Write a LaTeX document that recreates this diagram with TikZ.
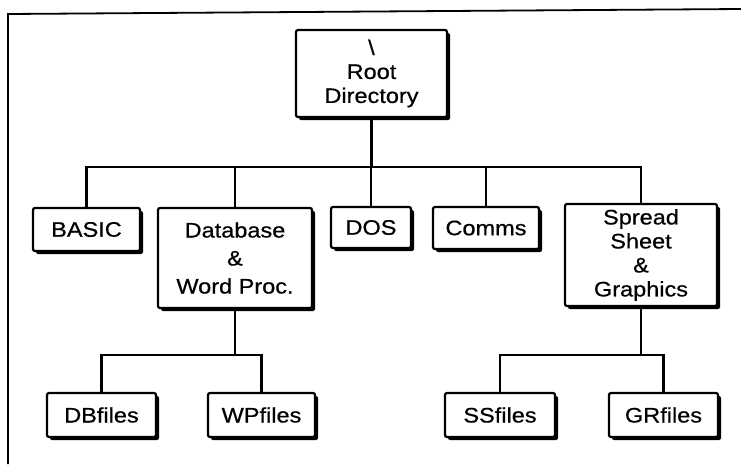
\documentclass[tikz,border=0pt]{standalone}
\usepackage{fontspec}
\setmainfont{Liberation Sans}[FakeStretch=1.12, FakeBold=0.6]
\usetikzlibrary{shadows}
\tikzset{
    dirbox/.style={draw, line width=2.2pt, rounded corners=2pt, fill=white,
        align=center, inner sep=0pt, font=\fontsize{21}{24}\selectfont,
        drop shadow={shadow xshift=3pt, shadow yshift=-3pt, opacity=1, fill=black}},
    link/.style={line width=2.4pt}
}
\begin{document}
\begin{tikzpicture}[x=1pt, y=-1pt]
        \useasboundingbox (0,0) rectangle (741,464);

        % frame
        \draw[line width=1.8pt] (8,464) -- (8,14) -- (741,9);

        \node[dirbox, minimum width=151pt, minimum height=87pt]  at (371.5,73.5)  (root)    {\textbackslash\\Root\\Directory};

        \node[dirbox, minimum width=107pt, minimum height=43pt]  at (86.5,229.5)  (basic)   {BASIC};
        \node[dirbox, minimum width=154pt, minimum height=100pt, font=\fontsize{21}{28}\selectfont] at (235,258) (db) {Database\\\&\\Word Proc.};
        \node[dirbox, minimum width=80pt, minimum height=41pt]   at (371,227.5)   (dos)     {DOS};
        \node[dirbox, minimum width=106pt, minimum height=42pt]  at (486,228)     (comms)   {Comms};
        \node[dirbox, minimum width=152pt, minimum height=102pt] at (641,255)     (spread)  {Spread\\Sheet\\\&\\Graphics};

        \node[dirbox, minimum width=109pt, minimum height=44pt]  at (101.5,415)   (dbfiles) {DBfiles};
        \node[dirbox, minimum width=107pt, minimum height=44pt]  at (261.5,415)   (wpfiles) {WPfiles};
        \node[dirbox, minimum width=110pt, minimum height=44pt]  at (500,415)     (ssfiles) {SSfiles};
        \node[dirbox, minimum width=109pt, minimum height=44pt]  at (663.5,415)   (grfiles) {GRfiles};

        % branch points
        \coordinate (bus1) at (371.5,167);
        \coordinate (bus2) at (235,355);
        \coordinate (bus3) at (641,355);

        \draw[link]  (root.south) -- (bus1);
        \draw[link]  (basic.north) |- (bus1);
        \draw[link]  (spread.north) |- (bus1);
        \draw[link]  (db.north) -- (db.north |- bus1);
        \draw[link]  (dos.north) -- (dos.north |- bus1);
        \draw[link]  (comms.north) -- (comms.north |- bus1);

        \draw[link]  (db.south) -- (bus2);
        \draw[link]  (dbfiles.north) |- (bus2);
        \draw[link]  (wpfiles.north) |- (bus2);

        \draw[link]  (spread.south) -- (bus3);
        \draw[link]  (ssfiles.north) |- (bus3);
        \draw[link]  (grfiles.north) |- (bus3);

    \end{tikzpicture}
\end{document}
